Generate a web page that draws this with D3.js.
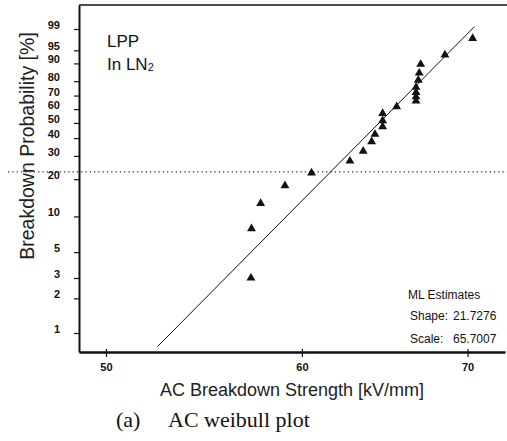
<!DOCTYPE html>
<html>
<head>
<meta charset="utf-8">
<script src="https://cdn.jsdelivr.net/npm/d3@7"></script>
<style>
  html, body { margin: 0; padding: 0; background: #fff; }
  svg { display: block; }
</style>
</head>
<body>
<svg id="chart" width="507" height="441"></svg>
<script>
// ---- data ----
const strength = [57.22, 57.25, 57.74, 59.06, 60.54, 62.74, 63.52, 64.02, 64.22, 64.68, 64.68, 64.68,
                  65.53, 66.72, 66.72, 66.72, 66.72, 66.86, 66.92, 67.01, 68.54, 70.33];
const probability = [3.0, 7.9, 12.8, 17.8, 22.4, 27.5, 32.5, 37.8, 42.4, 47.4, 51.6, 56.9,
                     61.8, 66.0, 69.1, 72.3, 75.9, 80.7, 85.0, 89.6, 93.5, 97.8];
const fitStrength = [52.45, 70.45];
const fitProbability = [0.76, 99.2];
const dottedLevel = 22.8;
const xTicks = [50, 60, 70];
const yTicks = [1, 2, 3, 5, 10, 20, 30, 40, 50, 60, 70, 80, 90, 95, 99];
const estimates = [["Shape:", "21.7276"], ["Scale:", "65.7007"]];

// ---- layout ----
const svg = d3.select("#chart");
const L = 79, T = 5, B = 352, R = 505;
const weib = p => Math.log(-Math.log(1 - p / 100));

const x = d3.scaleLog().domain([48.76, 72.48]).range([L, R]);
const yW = d3.scaleLinear().domain([-4.983, 2.011]).range([B, T]);
const y = p => yW(weib(p));

const ink = "#111";
const sans = "'Liberation Sans', Arial, sans-serif";

// top border
svg.append("line").attr("x1", L).attr("x2", 507).attr("y1", T).attr("y2", T)
  .attr("stroke", ink).attr("stroke-width", 1.6);

// dotted reference line
svg.append("line").attr("x1", 8).attr("x2", 507)
  .attr("y1", y(dottedLevel)).attr("y2", y(dottedLevel))
  .attr("stroke", "#333").attr("stroke-width", 1.1).attr("stroke-dasharray", "1.3,3");

// y axis
const yAxis = d3.axisLeft(yW)
  .tickValues(yTicks.map(weib))
  .tickFormat((d, i) => yTicks[i])
  .tickSize(5).tickSizeOuter(0).tickPadding(14);
const gy = svg.append("g").attr("transform", `translate(${L},0)`).call(yAxis);
gy.select(".domain").attr("stroke", ink).attr("stroke-width", 2);
gy.selectAll(".tick line").attr("stroke", ink).attr("stroke-width", 1.2).attr("x2", -5).attr("x1", 1);
gy.selectAll(".tick text").attr("fill", ink).attr("dy", "-0.05em")
  .style("font-family", sans).style("font-size", "11px").style("font-weight", "bold");

// x axis
const xAxis = d3.axisBottom(x).tickValues(xTicks).tickFormat(d3.format("d"))
  .tickSize(5).tickSizeOuter(0).tickPadding(6);
const gx = svg.append("g").attr("transform", `translate(0,${B})`).call(xAxis);
gx.select(".domain").attr("stroke", ink).attr("stroke-width", 2.5);
gx.selectAll(".tick line").attr("stroke", ink).attr("stroke-width", 1.2).attr("y1", -3).attr("y2", 5);
gx.selectAll(".tick text").attr("fill", ink)
  .style("font-family", sans).style("font-size", "11px").style("font-weight", "bold");

// fit line
svg.append("line")
  .attr("x1", x(fitStrength[0])).attr("y1", y(fitProbability[0]))
  .attr("x2", x(fitStrength[1])).attr("y2", y(fitProbability[1]))
  .attr("stroke", ink).attr("stroke-width", 1);

// points
const tri = d3.symbol().type(d3.symbolTriangle).size(34);
svg.append("g").selectAll("path").data(strength).join("path")
  .attr("d", tri)
  .attr("transform", (d, i) => `translate(${x(d)},${y(probability[i])})`)
  .attr("fill", ink);

// texts
svg.append("text").attr("x", 107).attr("y", 47).text("LPP")
  .style("font-family", sans).style("font-size", "17px").attr("fill", ink);
const ln = svg.append("text").attr("x", 107).attr("y", 70)
  .style("font-family", sans).style("font-size", "17px").attr("fill", ink);
ln.append("tspan").text("In LN");
ln.append("tspan").text("2").style("font-size", "11px").attr("dy", 1);

svg.append("text").attr("x", 408).attr("y", 299).text("ML Estimates")
  .style("font-family", sans).style("font-size", "12px").attr("fill", ink);
estimates.forEach((e, i) => {
  svg.append("text").attr("x", 410).attr("y", 320 + i * 23).text(e[0])
    .style("font-family", sans).style("font-size", "12px").attr("fill", ink);
  svg.append("text").attr("x", 453).attr("y", 320 + i * 23).text(e[1])
    .style("font-family", sans).style("font-size", "12px").attr("fill", ink);
});

svg.append("text")
  .attr("transform", "translate(27,146) rotate(-90)")
  .attr("text-anchor", "middle").attr("dominant-baseline", "central")
  .text("Breakdown Probability [%]")
  .style("font-family", sans).style("font-size", "19.5px").attr("fill", "#222");

svg.append("text").attr("x", 292).attr("y", 396).attr("text-anchor", "middle")
  .text("AC Breakdown Strength [kV/mm]")
  .style("font-family", sans).style("font-size", "18px").attr("fill", "#222");

const cap = svg.append("text").attr("x", 116).attr("y", 427)
  .style("font-family", "'Liberation Serif', 'Times New Roman', serif").style("font-size", "22px").attr("fill", "#111");
cap.append("tspan").text("(a)");
cap.append("tspan").attr("x", 168).text("AC weibull plot");
</script>
</body>
</html>
